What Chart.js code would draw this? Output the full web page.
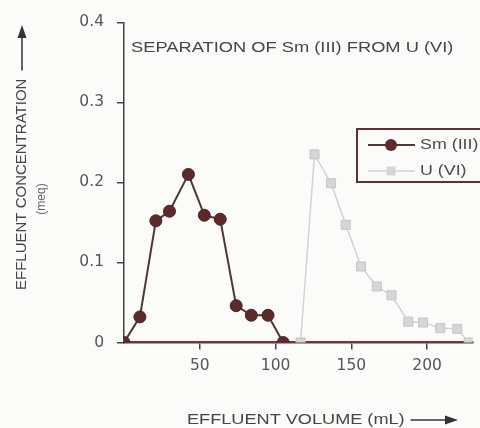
<!DOCTYPE html>
<html>
<head>
<meta charset="utf-8">
<script src="https://cdn.jsdelivr.net/npm/chart.js@4"></script>
<style>
  html, body { margin: 0; padding: 0; background: #fbfbf9; }
  #wrap { width: 480px; height: 428px; }
</style>
</head>
<body>
<div id="wrap"><canvas id="sepChart" width="480" height="428"></canvas></div>
<script>
// data
const smVolume = [0, 10.5, 21, 30, 42.5, 53, 63.5, 74, 84, 95, 105];
const smConc   = [0, 0.032, 0.152, 0.164, 0.21, 0.159, 0.154, 0.046, 0.034, 0.034, 0];
const uVolume  = [116.5, 125.7, 136.6, 146.3, 156.4, 166.8, 176.5, 187.6, 197.3, 208.7, 219.9, 227.4];
const uConc    = [0, 0.235, 0.199, 0.147, 0.095, 0.07, 0.059, 0.026, 0.025, 0.018, 0.017, 0];
const xTicks = [50, 100, 150, 200];
const yTicks = [0, 0.1, 0.2, 0.3, 0.4];
const seriesNames = ['Sm (III)', 'U (VI)'];
const chartTitle = 'SEPARATION OF Sm (III) FROM U (VI)';
const xTitle = 'EFFLUENT VOLUME (mL)';
const yTitle = 'EFFLUENT CONCENTRATION';
const yUnit = '(meq)';

const toPoints = (xs, ys) => xs.map((x, i) => ({ x: x, y: ys[i] }));

// stretched text, the scan is a bit wider than plain Arial
function wideText(ctx, text, x, y, size, sx, align) {
    ctx.save();
    ctx.font = size + 'px "Liberation Sans", Arial, sans-serif';
    ctx.textBaseline = 'middle';
    ctx.textAlign = 'left';
    const w = ctx.measureText(text).width * sx;
    const startX = align === 'center' ? x - w / 2 : x;
    ctx.translate(startX, y);
    ctx.scale(sx, 1);
    ctx.fillText(text, 0, 0);
    ctx.restore();
    return w;
}

const decorations = {
    id: 'decorations',
    afterDraw(chart) {
        const ctx = chart.ctx;
        const area = chart.chartArea;
        const sm = chart.data.datasets[0];
        const u = chart.data.datasets[1];
        ctx.save();
        ctx.fillStyle = '#454545';

        // title inside the plot
        wideText(ctx, chartTitle, area.left + 7, area.top + 25, 15.5, 1.18);

        // x title + arrow
        const w = wideText(ctx, xTitle, 187, 420, 15.5, 1.17);
        const ax0 = 187 + w + 6, ax1 = 458;
        ctx.strokeStyle = '#333';
        ctx.lineWidth = 1.5;
        ctx.beginPath(); ctx.moveTo(ax0, 420); ctx.lineTo(ax1 - 10, 420); ctx.stroke();
        ctx.fillStyle = '#333';
        ctx.beginPath(); ctx.moveTo(ax1, 420); ctx.lineTo(ax1 - 13, 415.5); ctx.lineTo(ax1 - 13, 424.5); ctx.closePath(); ctx.fill();

        // y title + arrow (rotated)
        ctx.save();
        ctx.translate(22, 290);
        ctx.rotate(-Math.PI / 2);
        ctx.fillStyle = '#454545';
        ctx.font = '15px "Liberation Sans", Arial, sans-serif';
        ctx.textBaseline = 'middle';
        ctx.textAlign = 'left';
        const tw = ctx.measureText(yTitle).width;
        ctx.fillText(yTitle, 0, 0);
        ctx.strokeStyle = '#333';
        ctx.lineWidth = 1.5;
        ctx.beginPath(); ctx.moveTo(tw + 8, 0); ctx.lineTo(255, 0); ctx.stroke();
        ctx.fillStyle = '#333';
        ctx.beginPath(); ctx.moveTo(265, 0); ctx.lineTo(252, -4.5); ctx.lineTo(252, 4.5); ctx.closePath(); ctx.fill();
        ctx.restore();

        ctx.save();
        ctx.translate(42, 199);
        ctx.rotate(-Math.PI / 2);
        ctx.fillStyle = '#666';
        ctx.font = '12px "Liberation Sans", Arial, sans-serif';
        ctx.textAlign = 'center';
        ctx.textBaseline = 'middle';
        ctx.fillText(yUnit, 0, 0);
        ctx.restore();

        // legend box (runs off the right edge like the scan)
        ctx.fillStyle = '#fbfbf9';
        ctx.fillRect(357, 129, 140, 53);
        ctx.strokeStyle = '#5e3036';
        ctx.lineWidth = 2;
        ctx.strokeRect(357, 129, 140, 53);

        // Sm entry
        ctx.strokeStyle = sm.borderColor;
        ctx.lineWidth = sm.borderWidth;
        ctx.beginPath(); ctx.moveTo(368, 145); ctx.lineTo(415, 145); ctx.stroke();
        ctx.fillStyle = sm.pointBackgroundColor;
        ctx.beginPath(); ctx.arc(391, 145, 6, 0, Math.PI * 2); ctx.fill();
        // U entry
        ctx.strokeStyle = u.borderColor;
        ctx.lineWidth = u.borderWidth;
        ctx.beginPath(); ctx.moveTo(368, 171); ctx.lineTo(415, 171); ctx.stroke();
        ctx.fillStyle = u.pointBackgroundColor;
        ctx.fillRect(386.5, 166.5, 9, 9);

        ctx.fillStyle = '#4a4a4a';
        wideText(ctx, seriesNames[0], 420, 145, 15.5, 1.15);
        wideText(ctx, seriesNames[1], 420, 171, 15.5, 1.15);
        ctx.restore();
    }
};

new Chart(document.getElementById('sepChart'), {
    type: 'scatter',
    data: {
        datasets: [
            {
                label: seriesNames[0],
                data: toPoints(smVolume, smConc),
                showLine: true,
                borderColor: '#4d3838',
                borderWidth: 2,
                pointStyle: 'circle',
                pointRadius: 6,
                pointBackgroundColor: '#5c2a2c',
                pointBorderColor: '#4a2224',
                pointBorderWidth: 1,
                order: 1
            },
            {
                label: seriesNames[1],
                data: toPoints(uVolume, uConc),
                showLine: true,
                borderColor: '#d2d2d2',
                borderWidth: 1.5,
                pointStyle: 'rect',
                pointRadius: 6.4,
                pointBackgroundColor: '#d6d6d6',
                pointBorderColor: '#c6c6c6',
                pointBorderWidth: 1,
                order: 2
            }
        ]
    },
    options: {
        responsive: false,
        animation: false,
        devicePixelRatio: 1,
        layout: { padding: { top: 22, left: 0, right: 0, bottom: 0 } },
        plugins: {
            legend: { display: false },
            tooltip: { enabled: false }
        },
        scales: {
            x: {
                type: 'linear',
                min: 0,
                max: 230,
                afterBuildTicks: s => { s.ticks = xTicks.map(v => ({ value: v })); },
                afterFit: s => { s.height = 85.5; },
                grid: { drawOnChartArea: false, tickLength: 7, color: '#444', lineWidth: 1.5 },
                border: { color: '#6a3840', width: 2.5 },
                ticks: {
                    color: '#555',
                    padding: 7,
                    maxRotation: 0,
                    font: { family: '"DejaVu Sans", sans-serif', size: 15.5 }
                }
            },
            y: {
                min: 0,
                max: 0.4,
                afterBuildTicks: s => { s.ticks = yTicks.map(v => ({ value: v })); },
                afterFit: s => { s.width = 124; },
                grid: { drawOnChartArea: false, tickLength: 7, color: '#444', lineWidth: 1.5 },
                border: { color: '#4a4040', width: 1.5 },
                ticks: {
                    color: '#555',
                    padding: 13,
                    font: { family: '"DejaVu Sans", sans-serif', size: 15.5 },
                    callback: v => v === 0 ? '0' : v.toFixed(1)
                }
            }
        }
    },
    plugins: [decorations]
});
</script>
</body>
</html>
